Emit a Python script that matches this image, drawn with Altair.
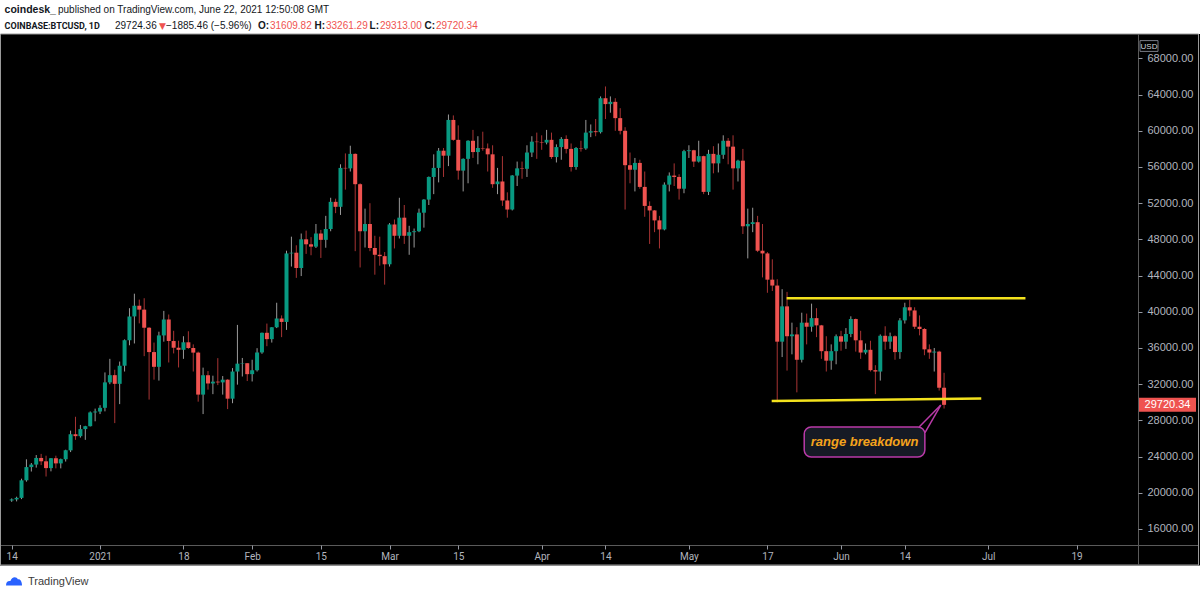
import altair as alt
import numpy as np
import pandas as pd

# ---------------- daily candles COINBASE:BTCUSD, 2020-12-14 .. 2021-06-22 ----------------
dates = pd.date_range("2020-12-14", "2021-06-22", freq="D").strftime("%Y-%m-%d").tolist()

opens = [
    # Dec
    19150, 19270, 19440, 21380, 22840, 23120, 23850, 23480, 22730, 23820, 23250, 23720, 24690, 26470, 26260, 27040, 27360, 28880,
    # Jan
    28980, 29390, 32200, 33000, 32040, 34040, 36860, 39490, 40670, 40240, 38240, 35550, 33920, 37390, 39150, 36770, 36030, 35800,
    36630, 36000, 35490, 30850, 32990, 32080, 32280, 32200, 32500, 30400, 33400, 34270, 34320,
    # Feb
    33110, 33540, 35510, 37680, 36980, 38290, 39260, 38880, 46450, 46530, 44840, 48010, 47460, 47200, 48650, 47950, 49150, 52150,
    51600, 55900, 55850, 57450, 54100, 48900, 49700, 47050, 46300, 46150,
    # Mar
    45250, 49650, 48400, 50400, 48400, 48800, 48900, 50950, 52400, 54900, 55900, 57800, 57250, 61200, 59000, 55600, 56900, 58900,
    57650, 58100, 58050, 57400, 54100, 54400, 52300, 51300, 55050, 55850, 55800, 57600, 58800,
    # Apr
    58750, 58700, 59000, 57100, 58200, 59100, 58000, 56000, 58100, 58050, 59800, 59950, 59850, 63600, 62950, 63200, 61400, 60000,
    56200, 55700, 56450, 53800, 51700, 51200, 50100, 49100, 54050, 55050, 54900, 53600,
    # May
    57750, 57850, 56600, 57200, 53250, 57450, 56400, 57350, 58900, 58250, 55850, 56700, 49450, 49700, 49900, 46750, 46450, 43550,
    42900, 36700, 40600, 37300, 37500, 34700, 38800, 38350, 39300, 38500, 35650, 34600, 35650,
    # Jun
    37300, 36700, 37550, 39200, 36850, 35500, 35800, 33550, 33400, 37350, 36700, 37300, 35550, 39050, 40500, 40150, 38350, 38100,
    35850, 35500, 35600, 31609.82,
]

highs = [
    19380, 19570, 21560, 23700, 23290, 24170, 24300, 24100, 23830, 24100, 23780, 24760, 26870, 28400, 27500, 27400, 28990, 29300,
    29680, 33300, 34800, 33600, 34500, 36950, 40400, 42000, 41350, 41500, 38300, 36600, 37800, 40100, 39700, 37900, 36800, 37300,
    37850, 36400, 35600, 33830, 33450, 32940, 34880, 32900, 32550, 33780, 38550, 34900, 34330,
    34700, 35980, 37700, 38700, 38300, 41000, 39600, 46750, 48300, 47350, 48650, 48970, 48250, 49700, 49050, 50600, 52600, 52500,
    56300, 57500, 58350, 57500, 54200, 51400, 52000, 48400, 48300, 46600,
    49800, 50200, 52600, 51800, 49500, 49200, 51400, 52450, 54950, 57400, 58100, 58100, 61800, 61700, 60600, 56950, 58950, 60100,
    59400, 59900, 58600, 58400, 55900, 57200, 53200, 55100, 56600, 56600, 58400, 59400, 59800,
    59500, 60100, 59800, 58500, 59300, 59500, 58600, 58200, 58900, 61200, 60700, 61300, 63800, 64900, 63800, 63600, 62500, 60400,
    57600, 57000, 56800, 55500, 52200, 51250, 50600, 54300, 55400, 56400, 55200, 57900,
    58400, 57900, 58900, 57250, 57900, 58300, 58600, 59500, 59200, 59500, 56800, 58000, 51400, 51500, 50600, 49700, 46600, 45800,
    43600, 42500, 42200, 38800, 38300, 39900, 39800, 40900, 40400, 38550, 37300, 36400, 37500,
    37900, 38200, 39500, 39250, 37900, 36500, 36800, 34100, 37500, 38400, 37700, 37400, 39300, 41000, 41300, 40500, 39600, 38200,
    36400, 36000, 35700, 33261.29,
]

lows = [
    19000, 19050, 19300, 21230, 22350, 22780, 23060, 21800, 22370, 22700, 22700, 23450, 24500, 25850, 26100, 25850, 27330, 27900,
    28700, 29000, 32000, 27700, 29800, 33400, 36300, 36500, 38720, 35100, 30300, 32500, 32400, 36700, 34400, 35400, 33850, 34800,
    35900, 33400, 30070, 28700, 31400, 30900, 31900, 30850, 29250, 29900, 31950, 32850, 32350,
    32300, 33400, 35360, 36200, 36600, 38200, 37200, 38000, 45000, 43750, 43950, 46400, 46250, 47050, 45950, 47080, 48900, 50900,
    50700, 53500, 55500, 46700, 44900, 47100, 46700, 44100, 45100, 43000,
    45000, 47000, 48100, 47500, 46300, 47100, 48800, 49300, 51800, 53000, 54300, 54900, 56100, 58900, 54600, 53300, 54200, 57000,
    56300, 57800, 55500, 53700, 53000, 51700, 50400, 51200, 53900, 54700, 54900, 57100, 56900,
    57900, 58500, 56900, 56500, 56800, 57500, 55500, 55700, 57700, 57900, 59300, 59400, 59700, 61300, 62000, 60000, 59600, 51300,
    54200, 53300, 53600, 50500, 47500, 48800, 47000, 49000, 53300, 53900, 52400, 53100,
    57000, 56000, 56500, 53000, 52900, 55300, 55400, 56900, 56300, 53500, 54400, 48600, 45900, 48800, 46600, 43800, 42100, 42300,
    30000, 35000, 33500, 35300, 31100, 34400, 36400, 37800, 37200, 34800, 33400, 33600, 34200,
    35700, 35900, 37200, 35600, 34800, 35300, 33400, 30900, 32400, 35800, 35900, 34700, 34800, 38700, 39500, 38100, 37400, 35200,
    34800, 33400, 31300, 29313.00,
]

closes = [
    19270, 19440, 21380, 22840, 23120, 23850, 23480, 22730, 23820, 23250, 23720, 24690, 26470, 26260, 27040, 27360, 28880, 28980,
    29390, 32200, 33000, 32040, 34040, 36860, 39490, 40670, 40240, 38240, 35550, 33920, 37390, 39150, 36770, 36030, 35800, 36630,
    36000, 35490, 30850, 32990, 32080, 32280, 32200, 32500, 30400, 33400, 34270, 34320, 33110,
    33540, 35510, 37680, 36980, 38290, 39260, 38880, 46450, 46530, 44840, 48010, 47460, 47200, 48650, 47950, 49150, 52150, 51600,
    55900, 55850, 57450, 54100, 48900, 49700, 47050, 46300, 46150, 45250,
    49650, 48400, 50400, 48400, 48800, 48900, 50950, 52400, 54900, 55900, 57800, 57250, 61200, 59000, 55600, 56900, 58900, 57650,
    58100, 58050, 57400, 54100, 54400, 52300, 51300, 55050, 55850, 55800, 57600, 58800, 58750,
    58700, 59000, 57100, 58200, 59100, 58000, 56000, 58100, 58050, 59800, 59950, 59850, 63600, 62950, 63200, 61400, 60000, 56200,
    55700, 56450, 53800, 51700, 51200, 50100, 49100, 54050, 55050, 54900, 53600, 57750,
    57850, 56600, 57200, 53250, 57450, 56400, 57350, 58900, 58250, 55850, 56700, 49450, 49700, 49900, 46750, 46450, 43550, 42900,
    36700, 40600, 37300, 37500, 34700, 38800, 38350, 39300, 38500, 35650, 34600, 35650, 37300,
    36700, 37550, 39200, 36850, 35500, 35800, 33550, 33400, 37350, 36700, 37300, 35550, 39050, 40500, 40150, 38350, 38100, 35850,
    35500, 35600, 31610, 29720.34,
]

# axis ticks
price_ticks = [16000, 20000, 24000, 28000, 32000, 36000, 40000, 44000, 48000, 52000, 56000, 60000, 64000, 68000]
tick_dates = [(2020, 12, 14), (2021, 1, 1), (2021, 1, 18), (2021, 2, 1), (2021, 2, 15), (2021, 3, 1), (2021, 3, 15),
              (2021, 4, 1), (2021, 4, 14), (2021, 5, 1), (2021, 5, 17), (2021, 6, 1), (2021, 6, 14), (2021, 7, 1), (2021, 7, 19)]

# yellow range lines
range_seg = ["top", "top", "bottom", "bottom"]
range_dates = ["2021-05-20T22:00:00Z", "2021-07-08T14:00:00Z", "2021-05-17T21:00:00Z", "2021-06-29T14:00:00Z"]
range_prices = [41490, 41490, 30140, 30420]

# annotation "range breakdown"
note_text = "range breakdown"
note_box_dates = ["2021-05-24T12:00:00Z", "2021-06-18T02:00:00Z"]
note_box_prices = [27270, 23960]
note_text_date = "2021-06-05T19:00:00Z"
note_text_price = 25650
pointer_seg = ["a", "a", "b", "b"]
pointer_dates = ["2021-06-16T22:00:00Z", "2021-06-21T08:00:00Z", "2021-06-18T02:00:00Z", "2021-06-21T08:00:00Z"]
pointer_prices = [27270, 29700, 26610, 29700]

last_price = 29720.34

# ---------------- styling ----------------
GREEN = "#089981"
RED = "#ef5350"
WICK_UP = "#9a9a9a"
WICK_DOWN = "#a83434"
AXIS_TXT = "#b2b5be"
W, H = 1136, 509

df = pd.DataFrame({"date": dates, "open": opens, "high": highs, "low": lows, "close": closes})
df["dir"] = np.where(df["close"] >= df["open"], "up", "down")

xscale = alt.Scale(type="utc", domain=[alt.DateTime(year=2020, month=12, date=13, hours=1, utc=True),
                                       alt.DateTime(year=2021, month=7, date=30, hours=12, utc=True)])
yscale = alt.Scale(domain=[14232, 70475], nice=False, zero=False)

xaxis = alt.Axis(
    values=[alt.DateTime(year=y, month=m, date=d, utc=True) for (y, m, d) in tick_dates],
    labelExpr="utcdate(datum.value) == 1 ? (utcmonth(datum.value) == 0 ? utcFormat(datum.value, '%Y') : utcFormat(datum.value, '%b')) : utcFormat(datum.value, '%d')",
    title="", grid=False, domain=False, tickSize=4, tickColor="#9598a1", labelColor=AXIS_TXT,
    labelFont="Roboto", labelFontSize=10, labelPadding=2, labelOverlap=False, zindex=1,
)
yaxis = alt.Axis(
    values=price_ticks, format=".2f", orient="right", title="", grid=False, domain=False,
    tickSize=4, tickColor="#9598a1", labelColor=AXIS_TXT, labelFont="Liberation Sans",
    labelFontSize=11, labelPadding=5, labelOverlap=False, zindex=1,
)


def X(field):
    return alt.X(field, scale=xscale, axis=xaxis)


def Y(field):
    return alt.Y(field, scale=yscale, axis=yaxis)


def one():
    return pd.DataFrame({"k": [0]})


def txt(s, x, y, size=10, color="#131722", weight="normal", align="left", font="Liberation Sans", style="normal"):
    return alt.Chart(one()).mark_text(
        text=s, fontSize=size, color=color, fontWeight=weight, align=align, baseline="middle", font=font,
        fontStyle=style,
    ).encode(x=alt.value(x), y=alt.value(y))


def white_band(y1, y2):
    return alt.Chart(one()).mark_rect(fill="#ffffff").encode(
        x=alt.value(-2), x2=alt.value(1198), y=alt.value(y1), y2=alt.value(y2))


# the chart canvas is black; the header and footer strips are painted white
head_band = white_band(-36, -2)
foot_band = white_band(529.5, 560)
frame = alt.Chart(one()).mark_rect(fillOpacity=0, stroke="#9a9a9a", strokeWidth=1).encode(
    x=alt.value(-1.5), x2=alt.value(1196.5), y=alt.value(-2), y2=alt.value(529))
vsep = alt.Chart(one()).mark_rule(color="#5a5a5a", strokeWidth=1).encode(
    x=alt.value(W + 0.5), y=alt.value(-2), y2=alt.value(529))
hsep = alt.Chart(one()).mark_rule(color="#5a5a5a", strokeWidth=1).encode(
    x=alt.value(-1), x2=alt.value(1196), y=alt.value(H + 0.5))

wicks = alt.Chart(df).mark_rule(strokeWidth=1).encode(
    x=X("date:T"), y=Y("low:Q"), y2="high:Q",
    stroke=alt.Stroke("dir:N", scale=alt.Scale(domain=["up", "down"], range=[WICK_UP, WICK_DOWN]), legend=None),
)
bodies = alt.Chart(df).mark_bar(size=4).encode(
    x=X("date:T"), y=Y("open:Q"), y2="close:Q",
    color=alt.Color("dir:N", scale=alt.Scale(domain=["up", "down"], range=[GREEN, RED]), legend=None),
)

ranges = alt.Chart(pd.DataFrame({"seg": range_seg, "date": range_dates, "price": range_prices})).mark_line(
    color="#f3e21d", strokeWidth=2.5).encode(x=X("date:T"), y=Y("price:Q"), detail="seg:N")

box = alt.Chart(pd.DataFrame({"date": [note_box_dates[0]], "d2": [note_box_dates[1]],
                              "price": [note_box_prices[0]], "p2": [note_box_prices[1]]})).mark_rect(
    fill="#161a25", stroke="#b93aa8", strokeWidth=1.5, cornerRadius=7).encode(
    x=X("date:T"), x2="d2:T", y=Y("price:Q"), y2="p2:Q")
pointer = alt.Chart(pd.DataFrame({"seg": pointer_seg, "date": pointer_dates, "price": pointer_prices})).mark_line(
    color="#b93aa8", strokeWidth=1.5).encode(x=X("date:T"), y=Y("price:Q"), detail="seg:N")
note = alt.Chart(pd.DataFrame({"date": [note_text_date], "price": [note_text_price]})).mark_text(
    text=note_text, fontSize=13, fontStyle="italic", fontWeight="bold", color="#f5a31c",
    font="Liberation Sans", align="center", baseline="middle").encode(x=X("date:T"), y=Y("price:Q"))

last_df = pd.DataFrame({"price": [last_price]})
tag = alt.Chart(last_df).mark_point(
    shape="M-1,-0.245L1,-0.245L1,0.245L-1,0.245Z", size=57 * 57, filled=True, fill=RED, opacity=1,
    strokeWidth=0).encode(x=alt.value(W + 29.5), y=Y("price:Q"))
tag_text = alt.Chart(last_df).mark_text(
    fontSize=11, color="#ffffff", font="Liberation Sans", align="center", baseline="middle").encode(
    x=alt.value(W + 29.5), y=Y("price:Q"), text=alt.Text("price:Q", format=".2f"))

usd_box = alt.Chart(one()).mark_point(
    shape="M-1,-0.6L1,-0.6L1,0.6L-1,0.6Z", size=18 * 18, filled=False, stroke="#787b86", strokeWidth=1,
    opacity=1).encode(x=alt.value(W + 11), y=alt.value(10))
usd_txt = txt("USD", W + 11, 10.5, size=8, color="#d1d4dc", align="center")

# header (two lines above the chart panel)
hy1, hy2 = -26, -10
header = [
    txt("coindesk_", 2.6, hy1, size=10.5, weight="bold"),
    txt("published on TradingView.com, June 22, 2021 12:50:08 GMT", 56, hy1, size=10),
    txt("COINBASE:BTCUSD, 1D", 2.6, hy2, size=9, weight="bold", font="Roboto"),
    txt("29724.36", 113, hy2, size=10),
    txt("▼", 157, hy2, size=9, color=RED, font="DejaVu Sans"),
    txt("\u22121885.46 (\u22125.96%)", 164, hy2, size=10),
    txt("O:", 267, hy2, size=10, weight="bold", align="right"),
    txt("31609.82", 268, hy2, size=10, color=RED),
    txt("H:", 323, hy2, size=10, weight="bold", align="right"),
    txt("33261.29", 324, hy2, size=10, color=RED),
    txt("L:", 377, hy2, size=10, weight="bold", align="right"),
    txt("29313.00", 378, hy2, size=10, color=RED),
    txt("C:", 433, hy2, size=10, weight="bold", align="right"),
    txt("29720.34", 434, hy2, size=10, color=RED),
]

# footer logo
logo = alt.Chart(one()).mark_point(
    shape="M-1,0.55 C-1,0.1 -0.75,-0.05 -0.45,0 C-0.3,-0.55 0.3,-0.65 0.5,-0.2 C0.8,-0.25 1,0.1 1,0.55 Z",
    size=256, filled=True, fill="#2962ff", opacity=1, strokeWidth=0).encode(x=alt.value(12), y=alt.value(545))
footer = [logo, txt("TradingView", 26, 545.5, size=11, color="#3b3b3b")]

chart = alt.layer(
    head_band, foot_band, frame, vsep, hsep, wicks, bodies, ranges, pointer, box, note, tag, tag_text,
    usd_box, usd_txt, *header, *footer,
).properties(
    width=W, height=H,
    padding={"left": 2, "top": 36, "right": 62, "bottom": 51},
    autosize=alt.AutoSizeParams(type="none"),
    background="#000000",
).configure_view(stroke=None)

chart.save("out.html", embed_options={"renderer": "svg", "actions": False})
